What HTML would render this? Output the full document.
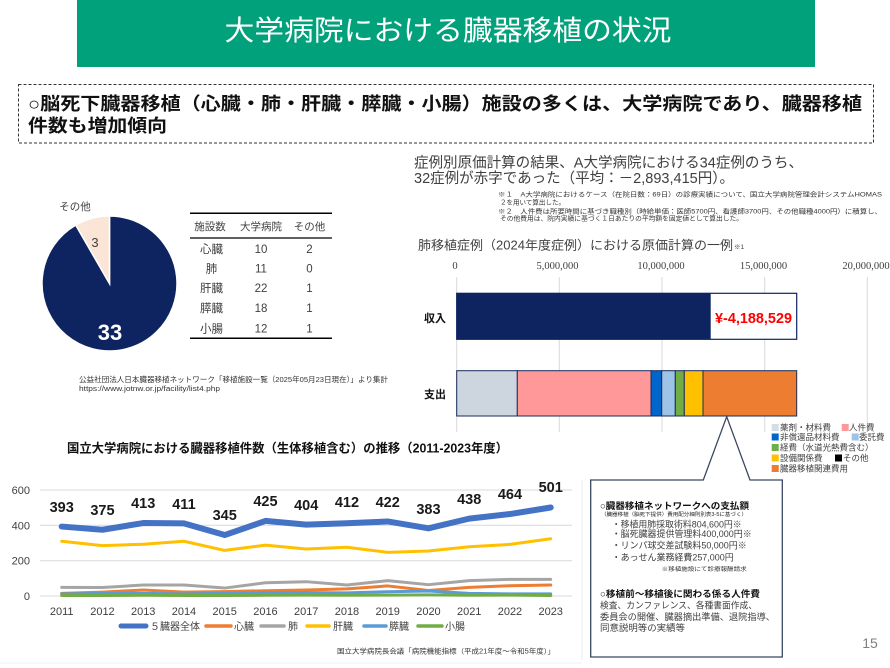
<!DOCTYPE html>
<html><head><meta charset="utf-8">
<style>
html,body{margin:0;padding:0;background:#fff;}
body{width:890px;height:668px;overflow:hidden;}
svg{display:block;font-family:"Liberation Sans","Noto Sans CJK JP",sans-serif;}
.g{fill:#404040;}
</style></head>
<body>
<svg width="890" height="668" viewBox="0 0 890 668" xmlns="http://www.w3.org/2000/svg">
<!-- Banner -->
<rect x="77" y="0" width="738" height="67" fill="#00a17b"/>
<text x="448" y="40" font-size="28" fill="#fff" text-anchor="middle" textLength="447" lengthAdjust="spacingAndGlyphs">大学病院における臓器移植の状況</text>

<!-- Headline box -->
<rect x="18.5" y="84.5" width="855" height="58.5" fill="none" stroke="#333" stroke-width="1" stroke-dasharray="3,2"/>
<text x="28" y="110" font-size="18" font-weight="bold" fill="#111" textLength="834" lengthAdjust="spacingAndGlyphs">○脳死下臓器移植（心臓・肺・肝臓・膵臓・小腸）施設の多くは、大学病院であり、臓器移植</text>
<text x="28" y="132" font-size="18" font-weight="bold" fill="#111" textLength="139" lengthAdjust="spacingAndGlyphs">件数も増加傾向</text>

<!-- Pie -->
<path d="M109.5,283.5 L109.5,216 A67.5,67.5 0 1 1 75.75,225.05 Z" fill="#0d2461" stroke="#fff" stroke-width="1.5"/>
<path d="M109.5,283.5 L75.75,225.05 A67.5,67.5 0 0 1 109.5,216 Z" fill="#fbe5d6" stroke="#fff" stroke-width="1.5"/>
<text x="95" y="247" font-size="13" class="g" text-anchor="middle">3</text>
<text x="110" y="340" font-size="22" font-weight="bold" fill="#fff" text-anchor="middle">33</text>
<text x="75" y="210" font-size="10.5" class="g" text-anchor="middle">その他</text>

<!-- Table -->
<line x1="190" y1="213.3" x2="332" y2="213.3" stroke="#000" stroke-width="1.5"/>
<line x1="190" y1="238" x2="332" y2="238" stroke="#000" stroke-width="1.2"/>
<line x1="190" y1="338.3" x2="332" y2="338.3" stroke="#000" stroke-width="1.5"/>
<g font-size="10.5" class="g" text-anchor="middle">
<text x="210" y="230">施設数</text>
<text x="261" y="230">大学病院</text>
<text x="309.5" y="230">その他</text>
</g>
<g font-size="11.5" class="g" text-anchor="middle">
<text x="211.5" y="253">心臓</text><text x="261" y="253">10</text><text x="309.5" y="253">2</text>
<text x="211.5" y="272.5">肺</text><text x="261" y="272.5">11</text><text x="309.5" y="272.5">0</text>
<text x="211.5" y="292">肝臓</text><text x="261" y="292">22</text><text x="309.5" y="292">1</text>
<text x="211.5" y="312">膵臓</text><text x="261" y="312">18</text><text x="309.5" y="312">1</text>
<text x="211.5" y="332.5">小腸</text><text x="261" y="332.5">12</text><text x="309.5" y="332.5">1</text>
</g>
<text x="79" y="382" font-size="7.5" fill="#333" textLength="309" lengthAdjust="spacingAndGlyphs">公益社団法人日本臓器移植ネットワーク「移植施設一覧（2025年05月23日現在）」より集計</text>
<text x="79" y="391" font-size="7.5" fill="#333" textLength="141" lengthAdjust="spacingAndGlyphs">https://www.jotnw.or.jp/facility/list4.php</text>

<!-- Right top text -->
<text x="414" y="167.5" font-size="14.5" class="g" textLength="389" lengthAdjust="spacingAndGlyphs">症例別原価計算の結果、A大学病院における34症例のうち、</text>
<text x="414" y="183" font-size="14.5" class="g" textLength="320" lengthAdjust="spacingAndGlyphs">32症例が赤字であった（平均：－2,893,415円）。</text>
<g font-size="6.5" fill="#333">
<text x="498" y="196.5" textLength="384" lengthAdjust="spacingAndGlyphs">※１　A大学病院におけるケース（在院日数：69日）の診療実績について、国立大学病院管理会計システムHOMAS</text>
<text x="500" y="204.5" textLength="65" lengthAdjust="spacingAndGlyphs">２を用いて算出した。</text>
<text x="498" y="213.5" textLength="384" lengthAdjust="spacingAndGlyphs">※２　人件費は所要時間に基づき職種別（時給単価：医師5700円、看護師3700円、その他職種4000円）に積算し、</text>
<text x="500" y="220.5" textLength="243" lengthAdjust="spacingAndGlyphs">その他費用は、院内実績に基づく１日あたりの平均額を固定値として算出した。</text>
</g>
<text x="418" y="249.5" font-size="12.5" class="g" textLength="315" lengthAdjust="spacingAndGlyphs">肺移植症例（2024年度症例）における原価計算の一例</text>
<text x="734" y="249" font-size="6.5" class="g">※1</text>

<!-- Bar chart -->
<g stroke="#d9d9d9" stroke-width="1">
<line x1="456.7" y1="277" x2="456.7" y2="432"/>
<line x1="559.3" y1="277" x2="559.3" y2="432"/>
<line x1="662" y1="277" x2="662" y2="432"/>
<line x1="764.7" y1="277" x2="764.7" y2="432"/>
<line x1="867.3" y1="277" x2="867.3" y2="432"/>
</g>
<g font-size="10.5" class="g" text-anchor="middle" font-family="'Liberation Serif',serif">
<text x="455" y="269">0</text>
<text x="557.5" y="269">5,000,000</text>
<text x="661" y="269">10,000,000</text>
<text x="763.5" y="269">15,000,000</text>
<text x="866" y="269">20,000,000</text>
</g>
<rect x="456.7" y="293.3" width="340" height="46" fill="#fff" stroke="#0d2461" stroke-width="1.2"/>
<rect x="456.7" y="293.3" width="254" height="46" fill="#0d2461"/>
<text x="753.5" y="323" font-size="15" font-weight="bold" fill="#ff0000" text-anchor="middle" textLength="77" lengthAdjust="spacingAndGlyphs">¥-4,188,529</text>
<text x="435" y="322" font-size="11" font-weight="bold" fill="#111" text-anchor="middle">収入</text>
<text x="435" y="398" font-size="11" font-weight="bold" fill="#111" text-anchor="middle">支出</text>
<g stroke="#1a2a5a" stroke-width="1">
<rect x="456.7" y="370.7" width="60.6" height="45.3" fill="#cdd5df"/>
<rect x="517.3" y="370.7" width="133.7" height="45.3" fill="#ff9999"/>
<rect x="651" y="370.7" width="10.7" height="45.3" fill="#0066cc"/>
<rect x="661.7" y="370.7" width="13.6" height="45.3" fill="#9dc3e6"/>
<rect x="675.3" y="370.7" width="9" height="45.3" fill="#70ad47"/>
<rect x="684.3" y="370.7" width="18.7" height="45.3" fill="#ffc000"/>
<rect x="703" y="370.7" width="93.7" height="45.3" fill="#ed7d31"/>
</g>

<!-- Bar legend -->
<g font-size="8.5" class="g">
<rect x="771.7" y="424" width="7" height="7" fill="#d6dce5"/><text x="780" y="430.5">薬剤・材料費</text>
<rect x="841.7" y="424" width="7" height="7" fill="#ff9999"/><text x="849" y="430.5">人件費</text>
<rect x="771.7" y="433.5" width="7" height="7" fill="#0066cc"/><text x="780" y="440">非償還品材料費</text>
<rect x="851.7" y="433.5" width="7" height="7" fill="#9dc3e6"/><text x="859" y="440">委託費</text>
<rect x="771.7" y="444" width="7" height="7" fill="#70ad47"/><text x="780" y="450.5">経費（水道光熱費含む）</text>
<rect x="771.7" y="454.5" width="7" height="7" fill="#ffc000"/><text x="780" y="461">設備関係費</text>
<rect x="835" y="454.5" width="7" height="7" fill="#000"/><text x="843" y="461">その他</text>
<rect x="771.7" y="465" width="7" height="7" fill="#ed7d31"/><text x="780" y="471.5">臓器移植関連費用</text>
</g>

<!-- Callout -->
<path d="M590.7,480 L703.3,480 L726.7,416.7 L750,480 L782.3,480 L782.3,657 L590.7,657 Z" fill="#fff" stroke="#3a4660" stroke-width="1.3"/>
<text x="600" y="509" font-size="9.3" font-weight="bold" fill="#111" textLength="149" lengthAdjust="spacingAndGlyphs">○臓器移植ネットワークへの支払額</text>
<text x="601" y="516" font-size="5" fill="#222" textLength="146" lengthAdjust="spacingAndGlyphs">（臓器移植（脳死下提供）費用配分細則別表3-5に基づく）</text>
<g font-size="9.3" class="g">
<text x="611.7" y="527.5" textLength="130" lengthAdjust="spacingAndGlyphs">・移植用肺採取術料804,600円※</text>
<text x="611.7" y="537" textLength="140" lengthAdjust="spacingAndGlyphs">・脳死臓器提供管理料400,000円※</text>
<text x="611.7" y="548.5" textLength="135" lengthAdjust="spacingAndGlyphs">・リンパ球交差試験料50,000円※</text>
<text x="611.7" y="560.5" textLength="122" lengthAdjust="spacingAndGlyphs">・あっせん業務経費257,000円</text>
</g>
<text x="661.7" y="571" font-size="5.5" fill="#333" textLength="85" lengthAdjust="spacingAndGlyphs">※移植施設にて診療報酬請求</text>
<text x="600" y="597" font-size="9.3" font-weight="bold" fill="#111" textLength="160" lengthAdjust="spacingAndGlyphs">○移植前～移植後に関わる係る人件費</text>
<g font-size="9.3" class="g">
<text x="600" y="608.5" textLength="157" lengthAdjust="spacingAndGlyphs">検査、カンファレンス、各種書面作成、</text>
<text x="600" y="620" textLength="175" lengthAdjust="spacingAndGlyphs">委員会の開催、臓器摘出準備、退院指導、</text>
<text x="600" y="631" textLength="85" lengthAdjust="spacingAndGlyphs">同意説明等の実績等</text>
</g>
<text x="870" y="648" font-size="14" fill="#7f7f7f" text-anchor="middle">15</text>

<!-- Line chart -->
<line x1="582" y1="480" x2="582" y2="660" stroke="#ececec" stroke-width="1"/>
<line x1="0" y1="663" x2="582" y2="663" stroke="#f0f0f0" stroke-width="1"/>
<text x="67" y="452.5" font-size="12.5" font-weight="bold" fill="#111" textLength="441" lengthAdjust="spacingAndGlyphs">国立大学病院における臓器移植件数（生体移植含む）の推移（2011-2023年度）</text>
<g stroke="#d9d9d9" stroke-width="1">
<line x1="40" y1="490" x2="572" y2="490"/>
<line x1="40" y1="525.3" x2="572" y2="525.3"/>
<line x1="40" y1="560.7" x2="572" y2="560.7"/>
<line x1="40" y1="596" x2="572" y2="596"/>
</g>
<g font-size="11" class="g" text-anchor="end">
<text x="30" y="494">600</text>
<text x="30" y="529.3">400</text>
<text x="30" y="564.7">200</text>
<text x="30" y="600">0</text>
</g>
<g font-size="11" class="g" text-anchor="middle">
<text x="61.7" y="615">2011</text><text x="102.45" y="615">2012</text><text x="143.2" y="615">2013</text>
<text x="183.95" y="615">2014</text><text x="224.7" y="615">2015</text><text x="265.45" y="615">2016</text>
<text x="306.2" y="615">2017</text><text x="346.95" y="615">2018</text><text x="387.7" y="615">2019</text>
<text x="428.45" y="615">2020</text><text x="469.2" y="615">2021</text><text x="509.95" y="615">2022</text>
<text x="550.7" y="615">2023</text>
</g>
<g fill="none" stroke-linejoin="round" stroke-linecap="round">
<polyline stroke="#4472c4" stroke-width="6" points="61.7,526.57 102.45,529.75 143.2,523.04 183.95,523.39 224.7,535.05 265.45,520.92 306.2,524.63 346.95,523.21 387.7,521.45 428.45,528.34 469.2,518.62 509.95,514.03 550.7,507.49"/>
<polyline stroke="#ed7d31" stroke-width="3" points="61.7,593.35 102.45,592.11 143.2,590 183.95,592.11 224.7,591.58 265.45,590.7 306.2,590 346.95,588.93 387.7,585.93 428.45,590.52 469.2,587.34 509.95,585.75 550.7,585.05"/>
<polyline stroke="#a5a5a5" stroke-width="3" points="61.7,587.34 102.45,587.52 143.2,585.05 183.95,585.05 224.7,588.05 265.45,582.75 306.2,581.69 346.95,585.05 387.7,580.63 428.45,584.69 469.2,580.63 509.95,579.39 550.7,579.39"/>
<polyline stroke="#ffc000" stroke-width="3" points="61.7,541.23 102.45,545.65 143.2,544.24 183.95,541.23 224.7,550.42 265.45,545.12 306.2,549.01 346.95,547.24 387.7,552.36 428.45,550.95 469.2,546.71 509.95,544.41 550.7,538.76"/>
<polyline stroke="#5b9bd5" stroke-width="3" points="61.7,593.88 102.45,593.53 143.2,593.35 183.95,593.88 224.7,593.35 265.45,592.82 306.2,592.64 346.95,592.82 387.7,591.76 428.45,591.05 469.2,593.35 509.95,593.88 550.7,593.88"/>
<polyline stroke="#70ad47" stroke-width="3" points="61.7,595.47 102.45,595.47 143.2,595.3 183.95,595.47 224.7,595.47 265.45,595.3 306.2,595.1 346.95,595.3 387.7,595.1 428.45,594.9 469.2,595.3 509.95,595.1 550.7,595.47"/>
</g>
<g font-size="14.5" font-weight="bold" fill="#1a1a1a" text-anchor="middle">
<text x="61.7" y="512">393</text><text x="102.45" y="515">375</text><text x="143.2" y="508">413</text>
<text x="183.95" y="509">411</text><text x="224.7" y="520">345</text><text x="265.45" y="506">425</text>
<text x="306.2" y="510">404</text><text x="346.95" y="507">412</text><text x="387.7" y="507">422</text>
<text x="428.45" y="514">383</text><text x="469.2" y="504">438</text><text x="509.95" y="499">464</text>
<text x="550.7" y="492">501</text>
</g>
<!-- line legend -->
<g stroke-linecap="round">
<line x1="121" y1="626" x2="146" y2="626" stroke="#4472c4" stroke-width="5"/>
<line x1="206" y1="626" x2="231" y2="626" stroke="#ed7d31" stroke-width="3.5"/>
<line x1="261" y1="626" x2="284" y2="626" stroke="#a5a5a5" stroke-width="3.5"/>
<line x1="307" y1="626" x2="329" y2="626" stroke="#ffc000" stroke-width="3.5"/>
<line x1="364" y1="626" x2="386" y2="626" stroke="#5b9bd5" stroke-width="3.5"/>
<line x1="418" y1="626" x2="442" y2="626" stroke="#70ad47" stroke-width="3.5"/>
</g>
<g font-size="10" class="g">
<text x="150" y="630">５臓器全体</text>
<text x="234" y="630">心臓</text>
<text x="288" y="630">肺</text>
<text x="333" y="630">肝臓</text>
<text x="389" y="630">膵臓</text>
<text x="445" y="630">小腸</text>
</g>
<text x="337" y="653.5" font-size="7" fill="#333" textLength="218" lengthAdjust="spacingAndGlyphs">国立大学病院長会議「病院機能指標（平成21年度～令和5年度）」</text>
</svg>
</body></html>
